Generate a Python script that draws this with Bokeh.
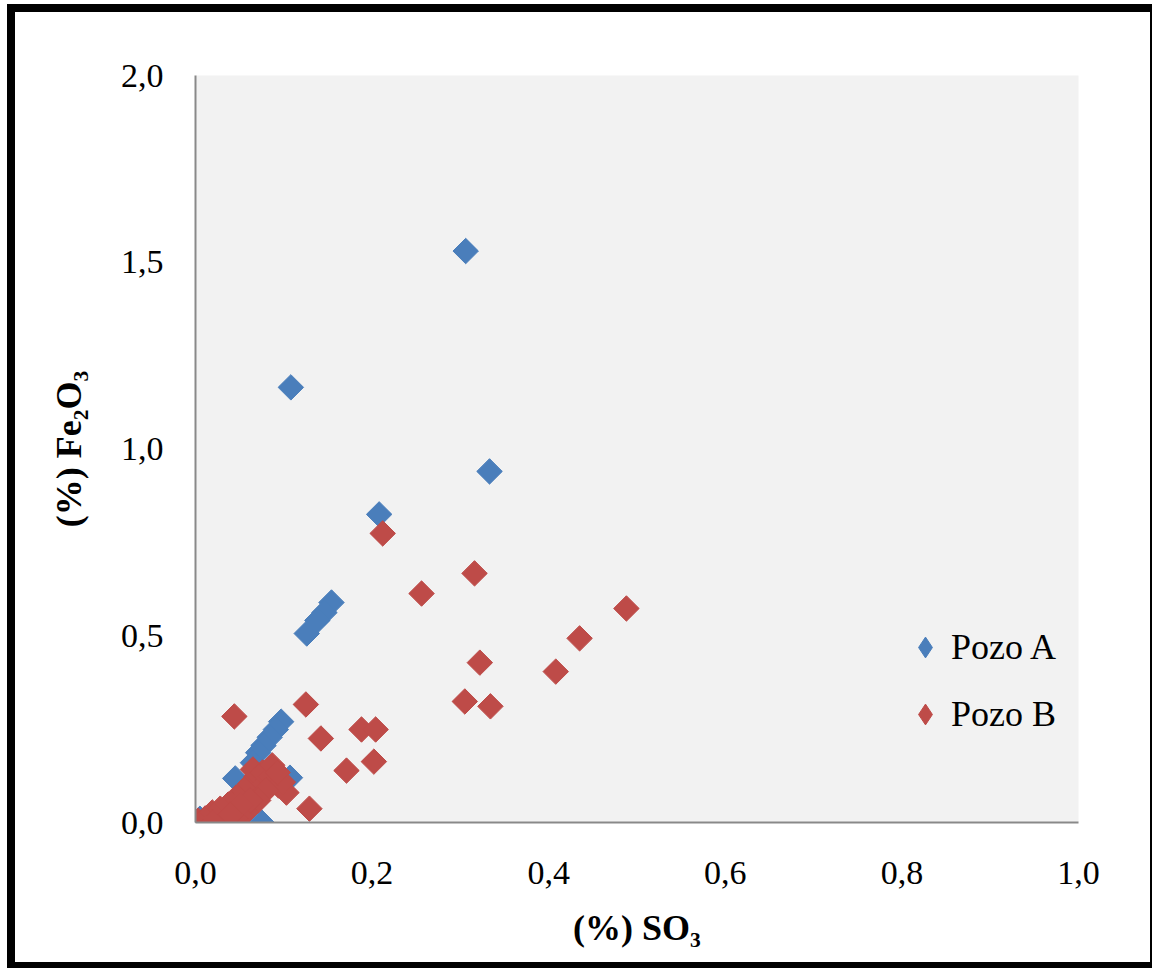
import numpy as np
from bokeh.plotting import figure
from bokeh.models import FixedTicker, Legend, LegendItem
from bokeh.embed import file_html
from bokeh.resources import INLINE

# ---- data ----
pozo_a_so3 = [0.306, 0.108, 0.333, 0.208, 0.154, 0.146, 0.138, 0.126,
              0.097, 0.091, 0.084, 0.077, 0.071, 0.065, 0.045, 0.107,
              0.075, 0.012, 0.022, 0.005, 0.030, 0.060]
pozo_a_fe2o3 = [1.530, 1.165, 0.940, 0.825, 0.589, 0.562, 0.541, 0.506,
                0.270, 0.249, 0.228, 0.206, 0.187, 0.160, 0.118, 0.120,
                0.000, 0.000, 0.000, 0.010, 0.030, 0.090]

pozo_b_so3 = [0.212, 0.316, 0.256, 0.488, 0.435, 0.322, 0.408, 0.305,
              0.334, 0.125, 0.044, 0.142, 0.188, 0.204, 0.202, 0.171,
              0.129, 0.003, 0.011, 0.019, 0.028, 0.037, 0.046, 0.055,
              0.062, 0.069, 0.065, 0.076, 0.085, 0.094, 0.103, 0.099,
              0.080, 0.071, 0.057, 0.045, 0.034, 0.019, 0.062, 0.051,
              0.040, 0.087, 0.093]
pozo_b_fe2o3 = [0.774, 0.667, 0.613, 0.573, 0.493, 0.428, 0.404, 0.324,
                0.311, 0.316, 0.284, 0.225, 0.249, 0.249, 0.163, 0.139,
                0.037, 0.005, 0.011, 0.027, 0.037, 0.048, 0.067, 0.086,
                0.104, 0.123, 0.142, 0.134, 0.123, 0.099, 0.080, 0.108,
                0.086, 0.059, 0.027, 0.011, 0.000, 0.000, 0.059, 0.046,
                0.021, 0.153, 0.134]

series_names = ["Pozo A", "Pozo B"]
series_colors = ["#4A7EBB", "#BE4B48"]
x_ticks = [0.0, 0.2, 0.4, 0.6, 0.8, 1.0]
x_tick_labels = ["0,0", "0,2", "0,4", "0,6", "0,8", "1,0"]
y_ticks = [0.0, 0.5, 1.0, 1.5, 2.0]
y_tick_labels = ["0,0", "0,5", "1,0", "1,5", "2,0"]
x_title = "(%) SO\u2083"
y_title = "(%) Fe\u2082O\u2083"

FONT = "Liberation Serif"

p = figure(width=1145, height=964, x_range=(0, 1), y_range=(0, 2),
           output_backend="svg", toolbar_location=None,
           min_border_left=180, min_border_right=82,
           min_border_top=63, min_border_bottom=154)
# black picture frame around the whole chart
p.styles = {"margin": "4px 0px 0px 7px",
            "border-style": "solid", "border-color": "black",
            "border-width": "8px 2px 6px 8px"}
p.background_fill_color = "#f2f2f2"
p.border_fill_color = "white"
p.outline_line_color = None
p.xgrid.grid_line_color = None
p.ygrid.grid_line_color = None

p.xaxis.ticker = FixedTicker(ticks=x_ticks)
p.yaxis.ticker = FixedTicker(ticks=y_ticks)
p.xaxis.major_label_overrides = dict(zip(x_ticks, x_tick_labels))
p.yaxis.major_label_overrides = dict(zip(y_ticks, y_tick_labels))
p.xaxis.axis_label = x_title
p.yaxis.axis_label = y_title

for ax in (p.xaxis[0], p.yaxis[0]):
    ax.axis_line_color = "#898989"
    ax.axis_line_width = 2
    ax.major_tick_line_color = None
    ax.minor_tick_line_color = None
    ax.major_tick_in = 0
    ax.major_tick_out = 0
    ax.minor_tick_in = 0
    ax.minor_tick_out = 0
    ax.major_label_text_font = FONT
    ax.major_label_text_font_size = "34px"
    ax.major_label_text_color = "black"
    ax.axis_label_text_font = FONT
    ax.axis_label_text_font_style = "bold"
    ax.axis_label_text_font_size = "36px"
    ax.axis_label_text_color = "black"

p.xaxis.major_label_standoff = 39
p.yaxis.major_label_standoff = 32
p.xaxis.axis_label_standoff = 21
p.yaxis.axis_label_standoff = 29

ra = p.scatter(pozo_a_so3, pozo_a_fe2o3, marker="square", size=18, angle=np.pi / 4,
               fill_color=series_colors[0], line_color=series_colors[0])
rb = p.scatter(pozo_b_so3, pozo_b_fe2o3, marker="square", size=18, angle=np.pi / 4,
               fill_color=series_colors[1], line_color=series_colors[1])

# diamond swatches for the legend (legend glyphs are drawn unrotated)
la = p.scatter(x=[np.nan], y=[np.nan], marker="diamond",
               fill_color=series_colors[0], line_color=series_colors[0])
lb = p.scatter(x=[np.nan], y=[np.nan], marker="diamond",
               fill_color=series_colors[1], line_color=series_colors[1])

legend = Legend(items=[LegendItem(label=series_names[0], renderers=[la]),
                       LegendItem(label=series_names[1], renderers=[lb])],
                location=(704, 82), padding=0, margin=0, spacing=15,
                glyph_width=52, glyph_height=52, label_height=40,
                label_standoff=0, background_fill_alpha=0,
                border_line_color=None,
                label_text_font=FONT, label_text_font_size="36px",
                label_text_color="black")
p.add_layout(legend)

open("out.html", "w").write(file_html(p, INLINE))
